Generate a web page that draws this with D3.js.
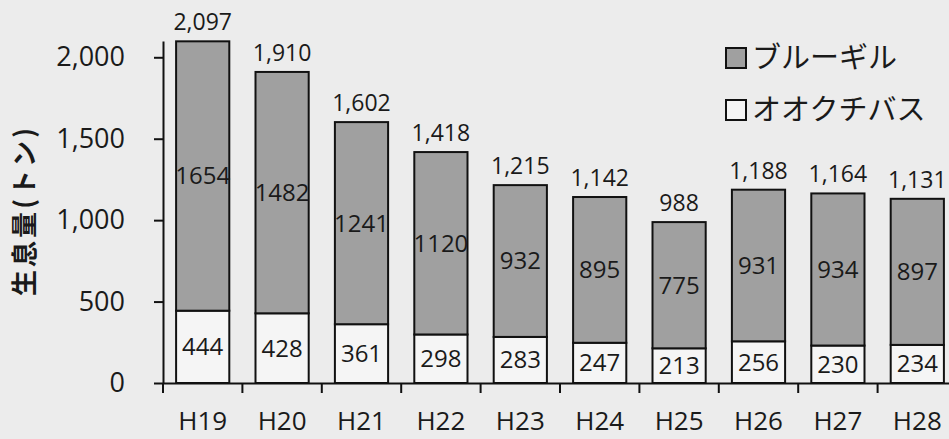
<!DOCTYPE html>
<html>
<head>
<meta charset="utf-8">
<script src="https://cdn.jsdelivr.net/npm/d3@7"></script>
<style>
	body { margin: 0; background: #ececec; }
	text { font-family: "Open Sans", "Noto Sans CJK JP", sans-serif; fill: #1a1a1a; }
	.jp { font-family: "Noto Sans CJK JP", sans-serif; }
</style>
</head>
<body>
<script>
// data
var years = ["H19", "H20", "H21", "H22", "H23", "H24", "H25", "H26", "H27", "H28"];
var bass = [444, 428, 361, 298, 283, 247, 213, 256, 230, 234];
var bluegill = [1654, 1482, 1241, 1120, 932, 895, 775, 931, 934, 897];
var totals = [2097, 1910, 1602, 1418, 1215, 1142, 988, 1188, 1164, 1131];
var yTicks = [0, 500, 1000, 1500, 2000];
var seriesNames = ["ブルーギル", "オオクチバス"];

var width = 949,
	height = 439,
	svg, x, y;

var grayFill = "#a0a0a0",
	whiteFill = "#f5f5f5";

function init() {
	svg = d3.select("body")
		.append("svg")
		.attr("width", width)
		.attr("height", height);

	x = d3.scaleBand()
		.domain(years)
		.range([163, 163 + 794])
		.paddingInner(0.33)
		.paddingOuter(0.165);

	y = d3.scaleLinear()
		.domain([0, 2100])
		.range([383, 41]);

	drawBars();
	drawAxes();
	drawLegend();
}

function drawBars() {
	var rows = years.map(function(d, i) {
		return { year: d, bass: bass[i], bluegill: bluegill[i], total: totals[i] };
	});

	var g = svg.append("g");

	// bass at the bottom
	g.selectAll("rect.bass")
		.data(rows)
		.enter().append("rect")
		.attr("class", "bass")
		.attr("x", function(d) { return x(d.year); })
		.attr("width", x.bandwidth())
		.attr("y", function(d) { return y(d.bass); })
		.attr("height", function(d) { return y(0) - y(d.bass); })
		.attr("fill", whiteFill)
		.attr("stroke", "#111")
		.attr("stroke-width", 2);

	// bluegill stacked on top
	g.selectAll("rect.bluegill")
		.data(rows)
		.enter().append("rect")
		.attr("class", "bluegill")
		.attr("x", function(d) { return x(d.year); })
		.attr("width", x.bandwidth())
		.attr("y", function(d) { return y(d.bass + d.bluegill); })
		.attr("height", function(d) { return y(d.bass) - y(d.bass + d.bluegill); })
		.attr("fill", grayFill)
		.attr("stroke", "#111")
		.attr("stroke-width", 2);

	g.selectAll("text.bassLabel")
		.data(rows)
		.enter().append("text")
		.attr("x", function(d) { return x(d.year) + x.bandwidth() / 2; })
		.attr("y", function(d) { return (y(0) + y(d.bass)) / 2; })
		.attr("dy", "0.35em")
		.attr("text-anchor", "middle")
		.attr("font-size", 24)
		.text(function(d) { return d.bass; });

	g.selectAll("text.bgLabel")
		.data(rows)
		.enter().append("text")
		.attr("x", function(d) { return x(d.year) + x.bandwidth() / 2; })
		.attr("y", function(d) { return (y(d.bass) + y(d.bass + d.bluegill)) / 2; })
		.attr("dy", "0.35em")
		.attr("text-anchor", "middle")
		.attr("font-size", 24)
		.text(function(d) { return d.bluegill; });

	g.selectAll("text.total")
		.data(rows)
		.enter().append("text")
		.attr("x", function(d) { return x(d.year) + x.bandwidth() / 2; })
		.attr("y", function(d) { return y(d.total) - 11; })
		.attr("text-anchor", "middle")
		.attr("font-size", 23)
		.text(function(d) { return d3.format(",")(d.total); });
}

function drawAxes() {
	var yAxis = svg.append("g")
		.attr("transform", "translate(163,0)")
		.call(d3.axisLeft(y)
			.tickValues(yTicks)
			.tickFormat(d3.format(","))
			.tickSizeInner(9)
			.tickSizeOuter(0)
			.tickPadding(29));
	yAxis.selectAll("line, path").attr("stroke", "#111").attr("stroke-width", 2);
	yAxis.selectAll("text").attr("font-size", 27).attr("fill", "#1a1a1a");

	var xAxis = svg.append("g")
		.attr("transform", "translate(0,383)")
		.call(d3.axisBottom(x).tickSize(0).tickPadding(29));
	xAxis.select(".domain").attr("stroke", "#111").attr("stroke-width", 2);
	xAxis.selectAll("text").attr("font-size", 26).attr("fill", "#1a1a1a");

	// ticks between the categories
	var edge = x.step() * x.paddingInner() / 2;
	xAxis.selectAll("line.sep")
		.data(years)
		.enter().append("line")
		.attr("class", "sep")
		.attr("x1", function(d) { return x(d) - edge; })
		.attr("x2", function(d) { return x(d) - edge; })
		.attr("y1", 0)
		.attr("y2", 10)
		.attr("stroke", "#111")
		.attr("stroke-width", 2);

	svg.append("text")
		.attr("class", "jp")
		.attr("transform", "translate(25,212) rotate(-90)")
		.attr("text-anchor", "middle")
		.attr("dy", "0.35em")
		.attr("font-size", 26)
		.attr("font-weight", "bold")
		.attr("textLength", 168)
		.attr("lengthAdjust", "spacing")
		.text("生息量(トン)");
}

function drawLegend() {
	var legend = svg.append("g")
		.attr("transform", "translate(726,48)");

	legend.selectAll("rect")
		.data(seriesNames)
		.enter().append("rect")
		.attr("x", 0)
		.attr("y", function(d, i) { return i * 52; })
		.attr("width", 20)
		.attr("height", 20)
		.attr("fill", function(d, i) { return i ? whiteFill : grayFill; })
		.attr("stroke", "#111")
		.attr("stroke-width", 2);

	legend.selectAll("text")
		.data(seriesNames)
		.enter().append("text")
		.attr("class", "jp")
		.attr("x", 26)
		.attr("y", function(d, i) { return i * 52 + 10; })
		.attr("dy", "0.35em")
		.attr("font-size", 29)
		.text(function(d) { return d; });
}

window.onload = init();
</script>
</body>
</html>
